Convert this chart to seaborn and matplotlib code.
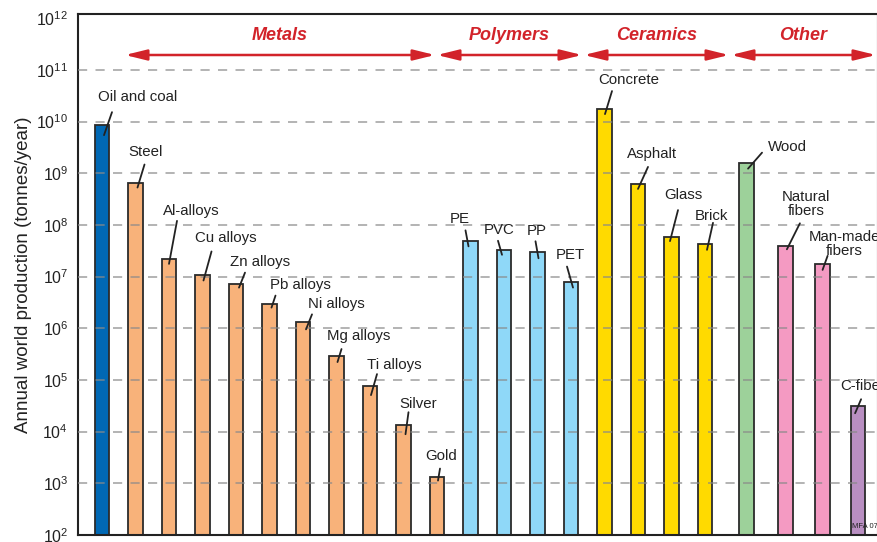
import numpy as np
import pandas as pd
import matplotlib
matplotlib.use("Agg")
import matplotlib.pyplot as plt
from matplotlib.patches import FancyArrowPatch
from matplotlib.transforms import offset_copy, blended_transform_factory
import seaborn as sns

# ---------------- data ----------------
materials = ["Oil and coal", "Steel", "Al-alloys", "Cu alloys", "Zn alloys", "Pb alloys",
             "Ni alloys", "Mg alloys", "Ti alloys", "Silver", "Gold",
             "PE", "PVC", "PP", "PET",
             "Concrete", "Asphalt", "Glass", "Brick",
             "Wood", "Natural\nfibers", "Man-made\nfibers", "C-fibers"]
groups = ["Fuel"] + ["Metals"] * 10 + ["Polymers"] * 4 + ["Ceramics"] * 4 + ["Wood", "Fibers", "Fibers", "CFiber"]
production = [8.5e9, 6.6e8, 2.2e7, 1.05e7, 7.3e6, 3.0e6, 1.3e6, 2.9e5, 7.6e4, 1.33e4, 1.35e3,
              4.8e7, 3.3e7, 2.95e7, 8.0e6,
              1.74e10, 6.2e8, 5.8e7, 4.3e7,
              1.6e9, 3.85e7, 1.76e7, 3.1e4]
group_labels = ["Metals", "Polymers", "Ceramics", "Other"]
tick_values = [1e2, 1e3, 1e4, 1e5, 1e6, 1e7, 1e8, 1e9, 1e10, 1e11, 1e12]
ylabel = "Annual world production (tonnes/year)"

# ---------------- style ----------------
group_colors = {"Fuel": "#0068B4", "Metals": "#F8B27A", "Polymers": "#8FD8F8",
                "Ceramics": "#FFDA00", "Wood": "#9DD19A", "Fibers": "#F49AC2", "CFiber": "#B98FC2"}
red = "#D2232A"

# bar slot spacing (layout): the "Other" group is spread a bit wider
slot_gap = np.ones(len(materials))
slot_gap[0] = 0
slot_gap[19:] = [1.24, 1.16, 1.11, 1.06]
positions = np.cumsum(slot_gap)

# label layout in pixels relative to bar top centre: text (dx,dy), leader start, leader end
label_layout = {
    "Oil and coal": ((35.5, 28), (10, 13), (2, -10)),
    "Steel": ((10, 31), (9, 18), (2, -5)),
    "Al-alloys": ((22, 48), (8, 38), (0, -5)),
    "Cu alloys": ((23, 37), (9, 24), (1, -5)),
    "Zn alloys": ((24, 22), (9, 11), (3, -4)),
    "Pb alloys": ((31, 19), (6, 8), (2, -4)),
    "Ni alloys": ((33, 18), (9, 8), (3, -7)),
    "Mg alloys": ((22, 20), (5, 7), (1, -6)),
    "Ti alloys": ((24, 21), (7, 12), (1, -9)),
    "Silver": ((15, 21), (5, 13), (2, -9)),
    "Gold": ((4, 21), (3, 8), (1, -4)),
    "PE": ((-11, 22), (-5, 11), (-2, -5)),
    "PVC": ((-5, 20), (-6, 9), (-2, -5)),
    "PP": ((-1, 21), (-2, 11), (1, -6)),
    "PET": ((-1, 27), (-4, 15), (2, -6)),
    "Concrete": ((24.5, 29), (7.5, 18), (0.5, -5)),
    "Asphalt": ((14, 30), (10, 17), (0, -5)),
    "Glass": ((11.5, 42), (6.5, 27), (-1.5, -4)),
    "Brick": ((6, 28), (8, 21), (2, -6)),
    "Wood": ((40.5, 16), (15.5, 10), (1.5, -6)),
    "Natural\nfibers": ((20.5, 42), (14.5, 23), (1.5, -3)),
    "Man-made\nfibers": ((22, 20), (5, 8), (0, -6)),
    "C-fibers": ((8, 20), (3, 7), (-3, -7)),
}

df = pd.DataFrame({"material": materials, "group": groups,
                   "production": production, "pos": positions})

sns.set_theme(style="white")
plt.rcParams["font.family"] = ["Liberation Sans", "DejaVu Sans"]
plt.rcParams["mathtext.fontset"] = "custom"
plt.rcParams["mathtext.rm"] = "Liberation Sans"

W, H, DPI = 878, 542, 100
fig = plt.figure(figsize=(W / DPI, H / DPI), dpi=DPI)
ax = fig.add_axes([78 / W, 1 - 535 / H, 1 - 78 / W, (535 - 14) / H])

sns.barplot(data=df, x="pos", y="production", hue="group", palette=group_colors,
            native_scale=True, dodge=False, width=0.43, legend=False, saturation=1,
            edgecolor="#2b2b2b", linewidth=1.3, ax=ax, zorder=2)
ax.set_yscale("log")
ax.set_ylim(1e2, 10 ** 12.08)
ax.set_xlim((78 - 102) / 33.5, (878 - 102) / 33.5)

# grid
ax.set_yticks(tick_values)
ax.minorticks_off()
ax.yaxis.set_major_formatter(matplotlib.ticker.LogFormatterMathtext())
for v in tick_values[1:-1]:
    ax.axhline(v, color="#8a8a8a", lw=1.2, ls=(0, (5.5, 5)), alpha=0.75, zorder=3)

ax.set_xticks([])
ax.set_xlabel("")
ax.set_ylabel(ylabel, fontsize=13.5, color="#222222", labelpad=3)
ax.tick_params(axis="y", which="major", direction="out", length=5, width=1.2,
               labelsize=11.5, colors="#222222", pad=2, right=True)
for s in ax.spines.values():
    s.set_color("#222222")
    s.set_linewidth(1.5)

# bar labels with leader lines
for name, v, p in zip(materials, production, positions):
    (tx, ty), (sx, sy), (ex, ey) = label_layout[name]
    t_end = offset_copy(ax.transData, fig=fig, x=ex, y=ey, units="dots")
    t_start = offset_copy(ax.transData, fig=fig, x=sx, y=sy, units="dots")
    t_text = offset_copy(ax.transData, fig=fig, x=tx, y=ty, units="dots")
    ax.annotate("", xy=(p, v), xycoords=t_end, xytext=(p, v), textcoords=t_start,
                arrowprops=dict(arrowstyle="-", color="#222222", lw=1.3,
                                shrinkA=0, shrinkB=0), zorder=5, annotation_clip=False)
    ax.text(p, v, name, transform=t_text, ha="center", va="center",
            fontsize=10.8, color="#222222", linespacing=1.0, zorder=5, clip_on=False)

# group arrows
bt = blended_transform_factory(ax.transData, ax.transAxes)
bounds = [(124 - 102) / 33.5, (436 - 102) / 33.5, (583 - 102) / 33.5, (730 - 102) / 33.5, (877 - 102) / 33.5]
y_arrow = (535 - 55) / (535 - 14)
y_text = (535 - 35) / (535 - 14)
for i, lab in enumerate(group_labels):
    a, b = bounds[i] + 0.03, bounds[i + 1] - 0.03
    arr = FancyArrowPatch((a, y_arrow), (b, y_arrow), transform=bt,
                          arrowstyle="<|-|>,head_length=1.3,head_width=0.32",
                          mutation_scale=10, color=red, lw=1.8, shrinkA=0, shrinkB=0,
                          clip_on=False, zorder=6)
    ax.add_patch(arr)
    ax.text((a + b) / 2, y_text, lab, transform=bt, ha="center", va="center",
            fontsize=13, fontweight="bold", fontstyle="italic", color=red)

fig.text(852 / W, 1 - 527 / H, "MFA 07", fontsize=5.5, color="#222222", ha="left", va="center")

fig.savefig("out.png", dpi=DPI)
